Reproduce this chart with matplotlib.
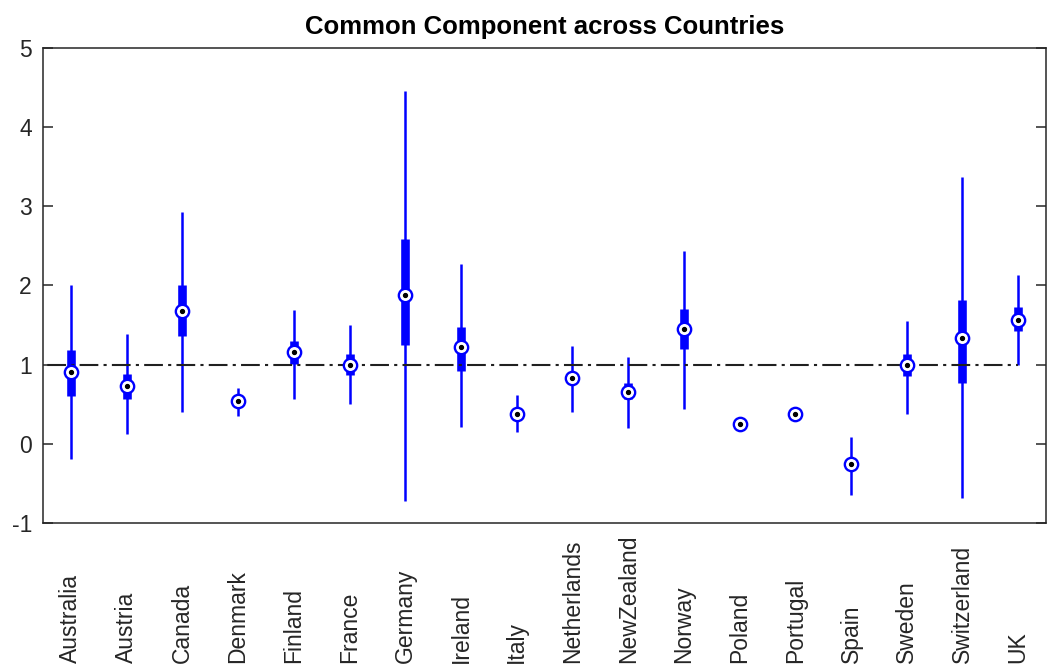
import numpy as np
import matplotlib
matplotlib.use("Agg")
import matplotlib.pyplot as plt
from matplotlib.transforms import blended_transform_factory

plt.rcParams['font.family'] = ['Liberation Sans', 'DejaVu Sans']
plt.rcParams['axes.unicode_minus'] = False

# countries and box statistics (whisker low, q1, median, q3, whisker high)
countries = ['Australia', 'Austria', 'Canada', 'Denmark', 'Finland', 'France',
             'Germany', 'Ireland', 'Italy', 'Netherlands', 'NewZealand', 'Norway',
             'Poland', 'Portugal', 'Spain', 'Sweden', 'Switzerland', 'UK']
whisk_lo = [-0.19, 0.12, 0.395, 0.349, 0.571, 0.508, -0.719, 0.214, 0.151, 0.403,
            0.193, 0.437, 0.19, 0.33, -0.647, 0.374, -0.689, 1.0]
q1 = [0.605, 0.56, 1.357, 0.50, 1.004, 0.865, 1.243, 0.92, 0.34, 0.79,
      0.56, 1.193, 0.22, 0.36, -0.30, 0.857, 0.769, 1.42]
medians = [0.90, 0.727, 1.676, 0.538, 1.16, 1.0, 1.882, 1.223, 0.382, 0.836,
           0.656, 1.454, 0.244, 0.38, -0.261, 1.0, 1.336, 1.567]
q3 = [1.18, 0.885, 2.0, 0.58, 1.298, 1.138, 2.588, 1.475, 0.43, 0.88,
      0.769, 1.706, 0.27, 0.40, -0.22, 1.138, 1.82, 1.727]
whisk_hi = [2.0, 1.39, 2.93, 0.706, 1.685, 1.504, 4.458, 2.273, 0.613, 1.231,
            1.097, 2.433, 0.30, 0.43, 0.088, 1.546, 3.365, 2.134]
ref_level = 1.0

pos = np.arange(1, len(countries) + 1)
blue = '#0000ff'
axcol = '#262626'

fig = plt.figure(figsize=(10.47, 6.68), dpi=100)
ax = fig.add_axes([0.0411, 0.2171, 0.958, 0.7115])

# compact boxplot: thin whiskers, thick boxes, circled medians
ax.vlines(pos, whisk_lo, whisk_hi, color=blue, lw=1.8, zorder=2)
ax.vlines(pos, q1, q3, color=blue, lw=6.2, zorder=3, capstyle='butt')
ax.plot([0, pos[-1]], [ref_level, ref_level], color='#202020', lw=1.5,
        dashes=(9, 2.5, 1.5, 2.5), zorder=4)
ax.plot(pos, medians, 'o', ms=9.6, mfc='white', mec=blue, mew=1.7,
        ls='none', zorder=5)
ax.plot(pos, medians, 'o', ms=2.8, color='k', ls='none', zorder=6)

ax.set_xlim(0.5, len(countries) + 0.5)
ax.set_ylim(-1, 5)
ax.set_yticks(np.arange(-1, 6))
ax.set_xticks([])
ax.tick_params(axis='y', direction='in', length=7, width=1.1, colors=axcol,
               labelsize=16.5, pad=8, right=True)
for sp in ax.spines.values():
    sp.set_color(axcol)
    sp.set_linewidth(1.1)

# rotated country names anchored at the bottom of the figure
trans = blended_transform_factory(ax.transData, fig.transFigure)
for x, name in zip(pos, countries):
    ax.text(x, 0.008, name, rotation=90, ha='center', va='bottom',
            fontsize=16.5, color=axcol, transform=trans, clip_on=False)

ax.set_title('Common Component across Countries', fontsize=18.5,
             fontweight='bold', pad=10)

fig.savefig('out.png', dpi=100)
